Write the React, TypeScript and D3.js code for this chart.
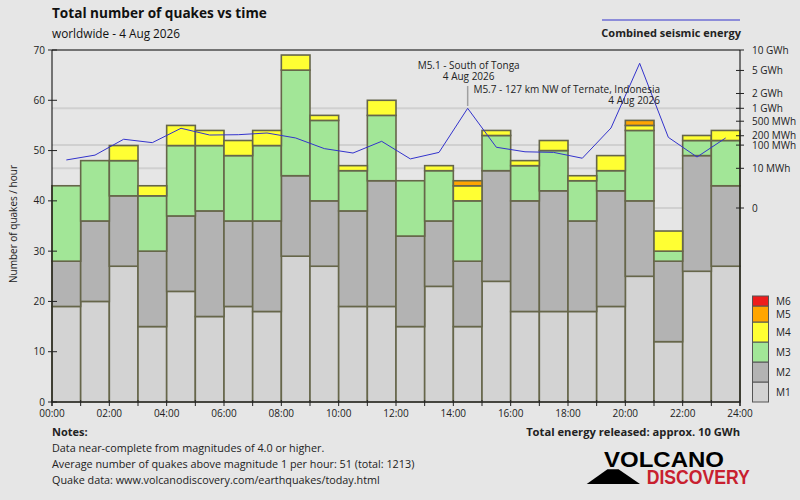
import React, { useEffect } from 'react';
import * as d3 from 'd3';

// ---- data ----
const hours = [0, 1, 2, 3, 4, 5, 6, 7, 8, 9, 10, 11, 12, 13, 14, 15, 16, 17, 18, 19, 20, 21, 22, 23];
const m1 = [19, 20, 27, 15, 22, 17, 19, 18, 29, 27, 19, 19, 15, 23, 15, 24, 18, 18, 18, 19, 25, 12, 26, 27];
const m2 = [9, 16, 14, 15, 15, 21, 17, 18, 16, 13, 19, 25, 18, 13, 13, 22, 22, 24, 18, 23, 15, 16, 23, 16];
const m3 = [15, 12, 7, 11, 14, 13, 13, 15, 21, 16, 8, 13, 11, 10, 12, 7, 7, 8, 8, 4, 14, 2, 3, 9];
const m4 = [0, 0, 3, 2, 4, 3, 3, 3, 3, 1, 1, 3, 0, 1, 3, 1, 1, 2, 1, 3, 1, 4, 1, 2];
const m5 = [0, 0, 0, 0, 0, 0, 0, 0, 0, 0, 0, 0, 0, 0, 1, 0, 0, 0, 0, 0, 1, 0, 0, 0];
const m6 = [0, 0, 0, 0, 0, 0, 0, 0, 0, 0, 0, 0, 0, 0, 0, 0, 0, 0, 0, 0, 0, 0, 0, 0];
// combined seismic energy per hour, MWh
const energyMWh = [26, 42, 156, 121, 327, 210, 215, 241, 171, 75, 51, 134, 29, 54, 1000, 84, 57, 54, 31, 333, 6440, 179, 35, 171];

const seriesNames = ['M1', 'M2', 'M3', 'M4', 'M5', 'M6'];
const seriesColors = ['#d3d3d3', '#b3b3b3', '#a2e697', '#ffff33', '#ffa500', '#ee1c1c'];
const leftTicks = [0, 10, 20, 30, 40, 50, 60, 70];
const xLabelHours = [0, 2, 4, 6, 8, 10, 12, 14, 16, 18, 20, 22, 24];
const xLabels = ['00:00', '02:00', '04:00', '06:00', '08:00', '10:00', '12:00', '14:00', '16:00', '18:00', '20:00', '22:00', '24:00'];
const energyTicks = [10000, 5000, 2000, 1000, 500, 200, 100, 10, 0];
const energyTickLabels = ['10 GWh', '5 GWh', '2 GWh', '1 GWh', '500 MWh', '200 MWh', '100 MWh', '10 MWh', '0'];
const energyGrid = [1000, 100, 10, 0];
const annotHours = [14, 20];
const annotTitles = ['M5.1 - South of Tonga', 'M5.7 - 127 km NW of Ternate, Indonesia'];
const annotDates = ['4 Aug 2026', '4 Aug 2026'];
const notes = [
  'Data near-complete from magnitudes of 4.0 or higher.',
  'Average number of quakes above magnitude 1 per hour: 51 (total: 1213)',
  'Quake data: www.volcanodiscovery.com/earthquakes/today.html',
];

const FONT = "'Open Sans', 'Noto Sans', sans-serif";

export default function App() {
  useEffect(() => {
    document.body.style.margin = '0';
  }, []);

  const W = 800, H = 500;
  const left = 52, right = 740, top = 50, bottom = 402;
  const x = d3.scaleLinear().domain([0, 24]).range([left, right]);
  const y = d3.scaleLinear().domain([0, 70]).range([bottom, top]);
  const yE = d3.scalePow().exponent(0.2).domain([0, 10000]).range([208, 50]);

  const table = hours.map((h, i) => ({ h, M1: m1[i], M2: m2[i], M3: m3[i], M4: m4[i], M5: m5[i], M6: m6[i] }));
  const stack = d3.stack<any>().keys(seriesNames)(table);

  const line = d3.line<number>().x((_, i) => x(hours[i] + 0.5)).y((d) => yE(d));

  const legendHeights = [20, 20, 20, 20, 16, 10];
  let ly = bottom;
  const legendItems = seriesNames.map((n, i) => {
    const h = legendHeights[i];
    ly -= h;
    return { n, c: seriesColors[i], y0: ly, h };
  });

  const stroke = '#66664a';

  return (
    <svg width={W} height={H} style={{ display: 'block', position: 'absolute', left: 0, top: 0 }} fontFamily={FONT}>
      <rect x={0} y={0} width={W} height={H} fill="#e6e6e6" />
      {/* title */}
      <text x={52} y={18} fontSize={13.6} fontWeight="bold" fill="#111">Total number of quakes vs time</text>
      <text x={52} y={38} fontSize={11.8} fill="#111">worldwide - 4 Aug 2026</text>
      {/* energy legend */}
      <line x1={602} x2={740} y1={20} y2={20} stroke="#3333cc" strokeWidth={1} />
      <text x={741} y={37} fontSize={11} fontWeight="bold" textAnchor="end" fill="#222">Combined seismic energy</text>

      {/* grid */}
      {energyGrid.map((e) => (
        <line key={e} x1={left} x2={right} y1={yE(e)} y2={yE(e)} stroke="#d0d0d0" strokeWidth={2} />
      ))}

      {/* bars */}
      {stack.map((s, si) => (
        <g key={s.key}>
          {s.map((d, i) => {
            const v = d[1] - d[0];
            if (v <= 0) return null;
            return (
              <rect key={i} x={x(hours[i])} width={x(hours[i] + 1) - x(hours[i])}
                y={y(d[1])} height={y(d[0]) - y(d[1])}
                fill={seriesColors[si]} stroke={stroke} strokeWidth={1.6} />
            );
          })}
        </g>
      ))}

      {/* annotation leader */}
      <line x1={x(annotHours[0] + 0.5)} x2={x(annotHours[0] + 0.5)} y1={86} y2={106} stroke="#a0a0a0" strokeWidth={1.5} />

      {/* energy line */}
      <path d={line(energyMWh) || ''} fill="none" stroke="#3333cc" strokeWidth={1} />

      {/* annotations */}
      <text x={x(annotHours[0] + 0.5) + 1} y={69} fontSize={10} textAnchor="middle" fill="#222">{annotTitles[0]}</text>
      <text x={x(annotHours[0] + 0.5) + 1} y={80} fontSize={10} textAnchor="middle" fill="#222">{annotDates[0]}</text>
      <text x={660} y={93} fontSize={10} textAnchor="end" fill="#222">{annotTitles[1]}</text>
      <text x={660} y={104} fontSize={10} textAnchor="end" fill="#222">{annotDates[1]}</text>

      {/* frame / axes */}
      <line x1={left} x2={right} y1={top} y2={top} stroke="#000" strokeWidth={1} />
      <line x1={left} x2={left} y1={top} y2={bottom + 4} stroke="#000" strokeWidth={1} />
      <line x1={right} x2={right} y1={top} y2={bottom + 4} stroke="#000" strokeWidth={1} />
      <line x1={left} x2={right} y1={bottom} y2={bottom} stroke="#333" strokeWidth={1.5} />

      {/* left ticks */}
      {leftTicks.map((t) => (
        <g key={t}>
          <line x1={48} x2={57} y1={y(t)} y2={y(t)} stroke="#222" strokeWidth={1} />
          <text x={45} y={y(t) + 3.5} fontSize={10} textAnchor="end" fill="#222">{t}</text>
        </g>
      ))}
      <text transform={`translate(17,224) rotate(-90)`} fontSize={10} textAnchor="middle" fill="#222">Number of quakes / hour</text>

      {/* x ticks */}
      {d3.range(25).map((h) => (
        <line key={h} x1={x(h)} x2={x(h)} y1={bottom - 2} y2={bottom + 4} stroke="#222" strokeWidth={1} />
      ))}
      {xLabelHours.map((h, i) => (
        <text key={h} x={x(h)} y={417} fontSize={10} textAnchor="middle" fill="#222">{xLabels[i]}</text>
      ))}

      {/* right ticks */}
      {energyTicks.map((e, i) => (
        <g key={e}>
          <line x1={i === 0 ? right : 736} x2={744} y1={yE(e)} y2={yE(e)} stroke="#222" strokeWidth={1} />
          <text x={752} y={yE(e) + 3.5} fontSize={10} fill="#222">{energyTickLabels[i]}</text>
        </g>
      ))}

      {/* magnitude legend */}
      {legendItems.map((it) => (
        <g key={it.n}>
          <rect x={752.5} y={it.y0} width={16} height={it.h} fill={it.c} stroke="#555" strokeWidth={1} />
          <text x={776} y={it.y0 + it.h / 2 + 3.5} fontSize={10} fill="#222">{it.n}</text>
        </g>
      ))}

      {/* notes */}
      <text x={52} y={436} fontSize={11} fontWeight="bold" fill="#222">Notes:</text>
      {notes.map((n, i) => (
        <text key={i} x={52} y={452 + i * 16} fontSize={10.8} fill="#222">{n}</text>
      ))}
      <text x={740} y={436} fontSize={11.2} fontWeight="bold" textAnchor="end" fill="#222">Total energy released: approx. 10 GWh</text>

      {/* logo */}
      <polygon points="586.7,484 607.5,469.3 618.5,469.3 640,484" fill="#000" />
      <text x={604} y={466.7} fontSize={22} fontWeight="bold" fontFamily="'Liberation Sans', Arial, sans-serif"
        textLength={120} lengthAdjust="spacingAndGlyphs" fill="#000">VOLCANO</text>
      <text x={646.7} y={484} fontSize={19.5} fontWeight="bold" fontFamily="'Liberation Sans', Arial, sans-serif"
        textLength={103} lengthAdjust="spacingAndGlyphs" fill="#c8202f">DISCOVERY</text>
    </svg>
  );
}
